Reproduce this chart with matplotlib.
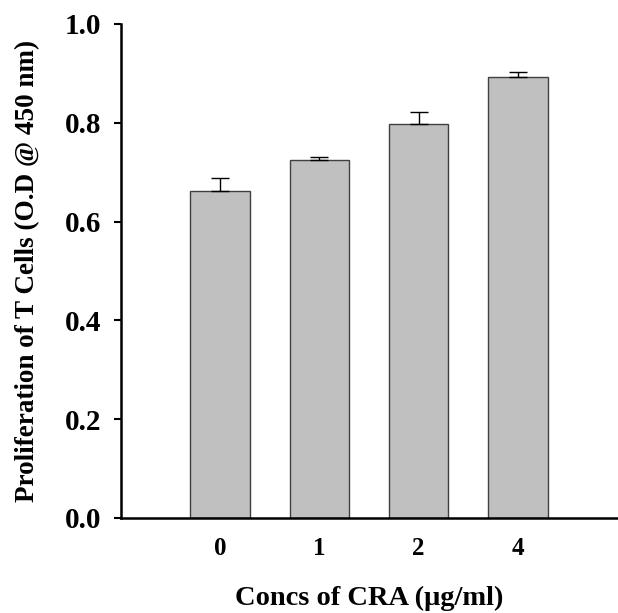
import matplotlib
matplotlib.use("Agg")
import matplotlib.pyplot as plt
import numpy as np

categories = ["0", "1", "2", "4"]
values = [0.661, 0.724, 0.798, 0.893]
errors = [0.027, 0.007, 0.023, 0.009]
yticks = [0.0, 0.2, 0.4, 0.6, 0.8, 1.0]

plt.rcParams['font.family'] = ['Liberation Serif', 'DejaVu Serif']
plt.rcParams['font.weight'] = 'bold'

fig = plt.figure(figsize=(6.18, 6.13), dpi=100)
ax = fig.add_axes([121/618, 1-518/613, (617-121)/618, (518-24)/613])

x = np.arange(len(categories))
ax.bar(x, values, width=0.6, color='#c0c0c0', edgecolor='#404040', linewidth=1.0, zorder=2)
ax.errorbar(x, values, yerr=[np.zeros(len(values)), errors], fmt='none',
            ecolor='black', elinewidth=1.0, capsize=6.5, capthick=1.0, zorder=3)

ax.set_xlim(-1, 4)
ax.set_ylim(0, 1.0)
ax.set_xticks(x)
ax.set_xticklabels(categories, fontsize=18, fontweight='bold')
ax.set_yticks(yticks)
ax.set_yticklabels([f"{t:.1f}" for t in yticks], fontsize=21, fontweight='bold')
ax.tick_params(axis='x', length=0, pad=14)
ax.tick_params(axis='y', direction='out', length=5, width=1.5, pad=9)

for s in ['top', 'right']:
    ax.spines[s].set_visible(False)
for s in ['left', 'bottom']:
    ax.spines[s].set_linewidth(1.8)

ax.set_xlabel("Concs of CRA (μg/ml)", fontsize=20.5, fontweight='bold', labelpad=18)
ax.set_ylabel("Proliferation of T Cells (O.D @ 450 nm)", fontsize=19.5, fontweight='bold', labelpad=18)

fig.savefig("out.png", dpi=100)
